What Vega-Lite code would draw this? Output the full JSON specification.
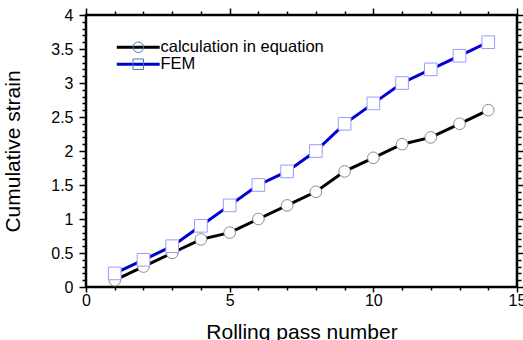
{
  "$schema": "https://vega.github.io/schema/vega-lite/v6.json",
  "width": 431,
  "height": 272,
  "autosize": {"type": "none"},
  "padding": {"left": 86, "top": 15, "right": 6, "bottom": 53},
  "background": "white",
  "config": {
    "font": "Liberation Sans",
    "view": {"stroke": "black", "strokeWidth": 2.5},
    "axis": {"grid": false, "domain": false, "tickColor": "black", "tickWidth": 1.5, "labelColor": "black", "titleColor": "black", "titleFontWeight": "normal"}
  },
  "data": {
    "values": [
      {"pass": 1, "strain": 0.1, "series": "calculation in equation"},
      {"pass": 2, "strain": 0.3, "series": "calculation in equation"},
      {"pass": 3, "strain": 0.5, "series": "calculation in equation"},
      {"pass": 4, "strain": 0.7, "series": "calculation in equation"},
      {"pass": 5, "strain": 0.8, "series": "calculation in equation"},
      {"pass": 6, "strain": 1.0, "series": "calculation in equation"},
      {"pass": 7, "strain": 1.2, "series": "calculation in equation"},
      {"pass": 8, "strain": 1.4, "series": "calculation in equation"},
      {"pass": 9, "strain": 1.7, "series": "calculation in equation"},
      {"pass": 10, "strain": 1.9, "series": "calculation in equation"},
      {"pass": 11, "strain": 2.1, "series": "calculation in equation"},
      {"pass": 12, "strain": 2.2, "series": "calculation in equation"},
      {"pass": 13, "strain": 2.4, "series": "calculation in equation"},
      {"pass": 14, "strain": 2.6, "series": "calculation in equation"},
      {"pass": 1, "strain": 0.2, "series": "FEM"},
      {"pass": 2, "strain": 0.4, "series": "FEM"},
      {"pass": 3, "strain": 0.6, "series": "FEM"},
      {"pass": 4, "strain": 0.9, "series": "FEM"},
      {"pass": 5, "strain": 1.2, "series": "FEM"},
      {"pass": 6, "strain": 1.5, "series": "FEM"},
      {"pass": 7, "strain": 1.7, "series": "FEM"},
      {"pass": 8, "strain": 2.0, "series": "FEM"},
      {"pass": 9, "strain": 2.4, "series": "FEM"},
      {"pass": 10, "strain": 2.7, "series": "FEM"},
      {"pass": 11, "strain": 3.0, "series": "FEM"},
      {"pass": 12, "strain": 3.2, "series": "FEM"},
      {"pass": 13, "strain": 3.4, "series": "FEM"},
      {"pass": 14, "strain": 3.6, "series": "FEM"}
    ]
  },
  "resolve": {"axis": {"x": "independent", "y": "independent"}},
  "layer": [
    {
      "transform": [{"filter": "datum.series === 'calculation in equation'"}],
      "mark": {"type": "line", "color": "black", "strokeWidth": 3},
      "encoding": {
        "x": {"field": "pass", "type": "quantitative", "scale": {"domain": [0, 15], "nice": false},
          "axis": {"orient": "bottom", "values": [0, 1, 2, 3, 4, 5, 6, 7, 8, 9, 10, 11, 12, 13, 14, 15],
            "labelExpr": "datum.value % 5 === 0 ? datum.label : ''",
            "tickSize": {"condition": {"test": "datum.value % 5 === 0", "value": 5}, "value": 3},
            "labelFontSize": 16, "labelPadding": 0, "labelFlush": false, "labelOverlap": false,
            "title": "Rolling pass number", "titleFontSize": 21, "titlePadding": 13}},
        "y": {"field": "strain", "type": "quantitative", "scale": {"domain": [0, 4], "nice": false},
          "axis": {"orient": "left", "values": [0, 0.1, 0.2, 0.3, 0.4, 0.5, 0.6, 0.7, 0.8, 0.9, 1, 1.1, 1.2, 1.3, 1.4, 1.5, 1.6, 1.7, 1.8, 1.9, 2, 2.1, 2.2, 2.3, 2.4, 2.5, 2.6, 2.7, 2.8, 2.9, 3, 3.1, 3.2, 3.3, 3.4, 3.5, 3.6, 3.7, 3.8, 3.9, 4],
            "format": "~g",
            "labelExpr": "abs(datum.value * 2 - round(datum.value * 2)) < 0.001 ? datum.label : ''",
            "tickSize": {"condition": {"test": "abs(datum.value * 2 - round(datum.value * 2)) < 0.001", "value": 7}, "value": 4},
            "labelFontSize": 16, "labelPadding": 6, "labelFlush": false, "labelOverlap": false,
            "title": "Cumulative strain", "titleFontSize": 21, "titlePadding": 27}}
      }
    },
    {
      "transform": [{"filter": "datum.series === 'FEM'"}],
      "mark": {"type": "line", "color": "#0000d4", "strokeWidth": 3},
      "encoding": {
        "x": {"field": "pass", "type": "quantitative",
          "axis": {"orient": "top", "values": [0, 1, 2, 3, 4, 5, 6, 7, 8, 9, 10, 11, 12, 13, 14, 15],
            "labels": false,
            "tickSize": {"condition": {"test": "datum.value % 5 === 0", "value": 7}, "value": 4},
            "title": null}},
        "y": {"field": "strain", "type": "quantitative",
          "axis": {"orient": "right", "values": [0, 0.1, 0.2, 0.3, 0.4, 0.5, 0.6, 0.7, 0.8, 0.9, 1, 1.1, 1.2, 1.3, 1.4, 1.5, 1.6, 1.7, 1.8, 1.9, 2, 2.1, 2.2, 2.3, 2.4, 2.5, 2.6, 2.7, 2.8, 2.9, 3, 3.1, 3.2, 3.3, 3.4, 3.5, 3.6, 3.7, 3.8, 3.9, 4],
            "labels": false,
            "tickSize": {"condition": {"test": "abs(datum.value * 2 - round(datum.value * 2)) < 0.001", "value": 6}, "value": 4},
            "title": null}}
      }
    },
    {
      "transform": [{"filter": "datum.series === 'calculation in equation'"}],
      "mark": {"type": "point", "shape": "circle", "filled": true, "fill": "white", "stroke": "#8c8c8c", "strokeWidth": 1, "size": 135, "opacity": 1},
      "encoding": {
        "x": {"field": "pass", "type": "quantitative", "axis": null},
        "y": {"field": "strain", "type": "quantitative", "axis": null}
      }
    },
    {
      "transform": [{"filter": "datum.series === 'FEM'"}],
      "mark": {"type": "point", "shape": "square", "filled": true, "fill": "white", "stroke": "#9a9aff", "strokeWidth": 1, "size": 160, "opacity": 1},
      "encoding": {
        "x": {"field": "pass", "type": "quantitative", "axis": null},
        "y": {"field": "strain", "type": "quantitative", "axis": null}
      }
    },
    {
      "transform": [{"filter": "datum.pass > 100"}],
      "mark": {"type": "point", "filled": false, "strokeWidth": 3, "opacity": 1},
      "encoding": {
        "x": {"field": "pass", "type": "quantitative", "axis": null},
        "y": {"field": "strain", "type": "quantitative", "axis": null},
        "stroke": {"field": "series", "type": "nominal",
          "scale": {"domain": ["calculation in equation", "FEM"], "range": ["black", "#0000d4"]},
          "legend": {"orient": "none", "legendX": 44, "legendY": 24, "title": null, "padding": 0, "rowPadding": 0,
            "symbolType": "M-3.9,0H3.9", "symbolSize": 121, "symbolStrokeWidth": 3, "symbolOpacity": 1, "labelFontSize": 16.5, "labelOffset": 14, "labelLimit": 400, "zindex": 1,
            "encode": {"labels": {"update": {"fill": {"signal": "datum.label === 'FEM' ? '#0000d4' : 'black'"}}}, "symbols": {"update": {"opacity": {"value": 1}, "strokeOpacity": {"value": 1}, "strokeWidth": {"value": 3}}}}}}
      }
    },
    {
      "transform": [{"filter": "datum.pass > 100"}],
      "mark": {"type": "point", "filled": false, "opacity": 1},
      "encoding": {
        "x": {"field": "pass", "type": "quantitative", "axis": null},
        "y": {"field": "strain", "type": "quantitative", "axis": null},
        "shape": {"field": "series", "type": "nominal",
          "scale": {"domain": ["a", "b"], "range": ["circle", "square"]},
          "legend": {"orient": "none", "legendX": 44, "legendY": 24, "title": null, "padding": 0, "rowPadding": 0,
            "symbolSize": 110, "symbolStrokeWidth": 1, "labelFontSize": 16.5, "labelOffset": 14, "labelExpr": "''", "zindex": 2,
            "encode": {"symbols": {"update": {"fill": {"value": "white"}, "fillOpacity": {"value": 1}, "opacity": {"value": 1}, "stroke": {"signal": "datum.value === 'b' ? '#9a9aff' : '#8c8c8c'"}}}}}}
      }
    }
  ]
}
